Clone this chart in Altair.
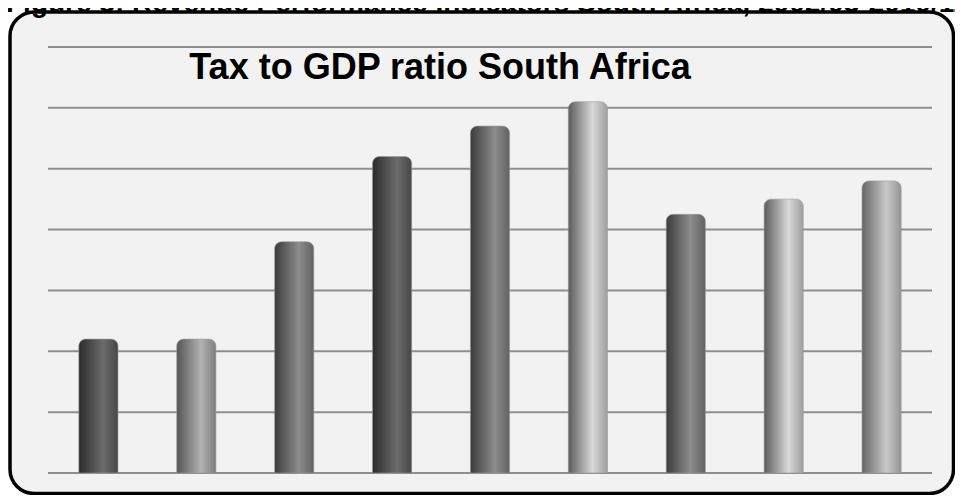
import altair as alt
import pandas as pd

# ---- data ----
years = ["2002/03", "2003/04", "2004/05", "2005/06", "2006/07",
         "2007/08", "2008/09", "2009/10", "2010/11"]
ratios = [24.2, 24.2, 25.8, 27.2, 27.7, 28.1, 26.25, 26.5, 26.8]
tick_values = [22, 23, 24, 25, 26, 27, 28, 29]
chart_title = ["Tax to GDP ratio South Africa"]
caption = ["Figure 3: Revenue Performance Indicators South Africa, 2002/03-2010/11"]

df = pd.DataFrame({"year": years, "ratio": ratios})

# ---- styles (per-bar cylinder shading) ----
def grad(left, hi, right):
    return alt.LinearGradient(
        gradient="linear", x1=0, x2=1, y1=0, y2=0,
        stops=[alt.GradientStop(offset=0, color=left),
               alt.GradientStop(offset=0.62, color=hi),
               alt.GradientStop(offset=1, color=right)])

dark = grad("#2c2c2c", "#6c6c6c", "#474747")
midlight = grad("#555555", "#b2b2b2", "#7e7e7e")
mid = grad("#3c3c3c", "#8c8c8c", "#626262")
light = grad("#5c5c5c", "#d8d8d8", "#9e9e9e")
light2 = grad("#666666", "#c8c8c8", "#959595")
bar_style = [dark, midlight, mid, dark, mid, light, mid, light, light2]

W, H = 884, 426
xscale = alt.Scale(domain=years, paddingInner=0.6, paddingOuter=0.315)
yscale = alt.Scale(domain=[22, 29], nice=False, zero=False)

one = pd.DataFrame({"k": [0]})

frame = alt.Chart(one).mark_rect(
    cornerRadius=24, stroke="black", strokeWidth=3.5, fill="#f2f2f2"
).encode(x=alt.value(-38), x2=alt.value(905.5), y=alt.value(-35), y2=alt.value(446.5))

grid = alt.Chart(pd.DataFrame({"tick": tick_values})).mark_rule(
    color="#8e8e8e", strokeWidth=2
).encode(y=alt.Y("tick:Q", scale=yscale, axis=None), x=alt.value(0), x2=alt.value(W))

bars = []
for yr, st in zip(years, bar_style):
    bars.append(
        alt.Chart(df).transform_filter(alt.datum.year == yr).mark_bar(
            color=st, cornerRadiusTopLeft=7, cornerRadiusTopRight=7,
            stroke="#9a9a9a", strokeWidth=0.6
        ).encode(
            x=alt.X("year:N", scale=xscale, axis=None),
            y=alt.Y("ratio:Q", scale=yscale, axis=None),
            y2=alt.datum(22),
        )
    )

title_layer = alt.Chart(pd.DataFrame({"t": chart_title})).mark_text(
    font="Liberation Sans", fontWeight="bold", fontSize=36,
    align="center", baseline="alphabetic", color="black"
).encode(text="t:N", x=alt.value(392), y=alt.value(32))

caption_layer = alt.Chart(pd.DataFrame({"t": caption})).mark_text(
    font="Liberation Sans", fontWeight="bold", fontSize=28,
    align="left", baseline="alphabetic", color="black"
).encode(text="t:N", x=alt.value(-42), y=alt.value(-35))

chart = alt.layer(frame, grid, *bars, title_layer, caption_layer).properties(
    width=W, height=H,
    autosize=alt.AutoSizeParams(type="none"),
    padding={"left": 40, "top": 39, "right": 23, "bottom": 22},
    background="white",
).configure_view(stroke=None)

chart.save("out.html", embed_options={"renderer": "svg", "actions": False})
